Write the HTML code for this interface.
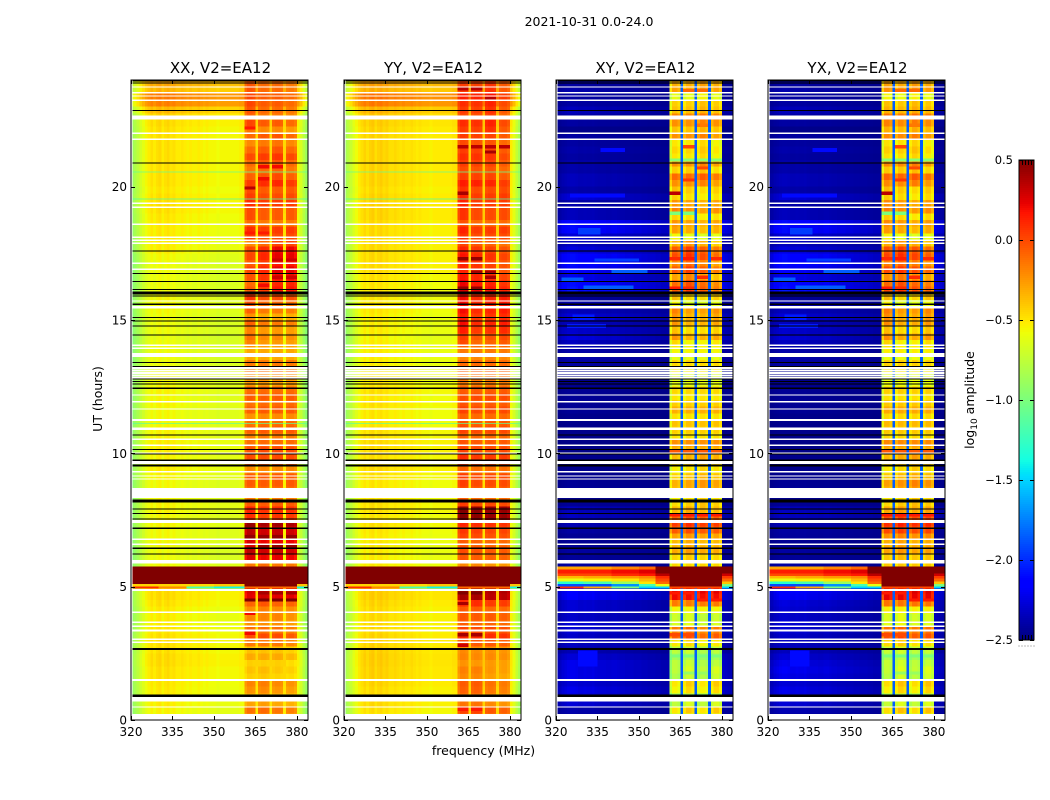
<!DOCTYPE html>
<html lang="en">
<head>
<meta charset="utf-8">
<title>2021-10-31 0.0-24.0 amplitude spectrograms</title>
<style>
html,body{margin:0;padding:0;background:#fff;width:1050px;height:800px;overflow:hidden}
svg{display:block}
text{font-family:"DejaVu Sans","Liberation Sans",sans-serif;fill:#000}
</style>
</head>
<body>
<svg id="chart" width="1050" height="800" viewBox="0 0 1050 800" xmlns="http://www.w3.org/2000/svg">
  <text x="589" y="26" font-size="12.5" text-anchor="middle">2021-10-31 0.0-24.0</text>
  <text x="483.5" y="755" font-size="12.5" text-anchor="middle">frequency (MHz)</text>
  <text transform="translate(102,399) rotate(-90)" font-size="12.5" text-anchor="middle">UT (hours)</text>
  <text transform="translate(974,400) rotate(-90)" font-size="12.5" text-anchor="middle">log<tspan font-size="9" dy="3">10</tspan><tspan dy="-3"> amplitude</tspan></text>
</svg>
<script>
/* ---------- axis data ---------- */
const freqTicks = [320, 335, 350, 365, 380];
const hourTicks = [0, 5, 10, 15, 20];
const colorTicks = [0.5, 0.0, -0.5, -1.0, -1.5, -2.0, -2.5];
const freqRange = [320, 384];
const hourRange = [0, 24];
const colorRange = [-2.5, 0.5];

/* channel kind per 1 MHz channel: 0 background, 1-4 sub-band, 5 gap between sub-bands */
const channelKind = [
  0,0,0,0,0,0,0,0,0,0,0,0,0,0,0,0,0,0,0,0,
  0,0,0,0,0,0,0,0,0,0,0,0,0,0,0,0,0,0,0,0,0,
  1,1,1,1,5,2,2,2,2,5,3,3,3,3,5,4,4,4,4,
  0,0,0,0];
const subbandLow = [361, 366, 371, 376];
const subbandHigh = [365, 370, 375, 380];

/* per-channel spectral shape (fraction of the row level above the floor) */
const parallelShape = [
  0.82,0.85,0.88,0.92,0.95,0.98,1.00,1.02,1.00,1.02,1.03,1.00,1.02,1.03,1.01,1.02,1.00,1.00,1.01,1.00,
  0.99,1.00,0.99,0.99,1.00,0.99,0.98,0.99,0.98,0.98,0.98,0.97,0.98,0.98,0.98,0.98,0.98,0.98,0.98,0.99,0.99,
  0.97,1.00,1.00,0.99,1.03,0.99,1.00,1.00,0.99,1.03,0.99,1.00,1.00,0.99,1.03,0.99,1.00,1.00,0.98,
  0.98,0.93,0.87,0.82];
const crossShape = [
  0.60,0.70,0.90,1.00,1.10,1.15,1.15,1.10,1.00,1.00,1.05,1.00,1.00,1.05,0.95,0.90,0.90,0.90,0.85,0.85,
  0.90,0.90,0.85,0.80,0.80,0.75,0.75,0.75,0.70,0.70,0.70,0.65,0.65,0.60,0.60,0.60,0.55,0.55,0.50,0.50,0.50,
  0.90,1.00,1.00,0.97,1.00,0.95,1.00,1.00,0.97,1.00,0.95,1.00,1.00,0.97,1.00,0.95,1.00,1.00,0.95,
  0.80,0.70,0.60,0.55];

/* background level per 0.25 h row (log10 amplitude), row 0 = 0.00-0.25 h */
const xxBackground = [
  -0.60,-0.58,-0.56,-0.55,-0.55,-0.54,-0.52,-0.52,-0.50,-0.50,-0.52,-0.52,-0.52,-0.54,-0.56,-0.56,
  -0.55,-0.52,-0.50,-0.50,-0.50,-0.50,-0.50,-0.60,-0.62,-0.62,-0.60,-0.60,-0.60,-0.58,-0.60,-0.58,
  -0.58,-0.60,-0.60,-0.60,-0.58,-0.56,-0.58,-0.58,-0.56,-0.56,-0.58,-0.58,-0.60,-0.60,-0.60,-0.58,
  -0.60,-0.58,-0.60,-0.60,-0.60,-0.62,-0.62,-0.62,-0.62,-0.64,-0.62,-0.62,-0.62,-0.60,-0.60,-0.60,
  -0.62,-0.62,-0.62,-0.62,-0.62,-0.60,-0.56,-0.56,-0.55,-0.55,-0.55,-0.54,-0.52,-0.52,-0.52,-0.54,
  -0.52,-0.52,-0.52,-0.52,-0.52,-0.52,-0.52,-0.52,-0.52,-0.50,-0.48,-0.40,-0.22,-0.20,-0.38,-0.34];
const yyBackground = [
  -0.55,-0.52,-0.50,-0.50,-0.50,-0.48,-0.47,-0.47,-0.46,-0.46,-0.47,-0.48,-0.48,-0.50,-0.50,-0.50,
  -0.50,-0.48,-0.46,-0.46,-0.46,-0.46,-0.46,-0.55,-0.56,-0.56,-0.55,-0.55,-0.54,-0.52,-0.54,-0.52,
  -0.52,-0.54,-0.54,-0.54,-0.52,-0.50,-0.52,-0.52,-0.50,-0.50,-0.52,-0.52,-0.54,-0.54,-0.54,-0.52,
  -0.54,-0.52,-0.54,-0.54,-0.54,-0.56,-0.56,-0.56,-0.56,-0.58,-0.56,-0.56,-0.56,-0.54,-0.54,-0.54,
  -0.54,-0.54,-0.52,-0.50,-0.50,-0.50,-0.50,-0.50,-0.50,-0.50,-0.50,-0.48,-0.48,-0.48,-0.48,-0.50,
  -0.48,-0.48,-0.48,-0.48,-0.48,-0.48,-0.48,-0.48,-0.48,-0.46,-0.44,-0.38,-0.20,-0.18,-0.36,-0.32];
const xyBackground = [
  -2.42,-2.40,-2.30,-2.30,-2.25,-2.30,-2.25,-2.25,-2.25,-2.30,-2.38,-2.35,-2.33,-2.30,-2.30,-2.33,
  -2.30,-2.30,-2.20,-2.20,-2.30,-2.30,-2.30,-2.42,-2.44,-2.42,-2.45,-2.45,-2.42,-2.38,-2.35,-2.35,
  -2.45,-2.47,-2.44,-2.45,-2.47,-2.47,-2.47,-2.47,-2.48,-2.48,-2.47,-2.47,-2.47,-2.47,-2.45,-2.45,
  -2.45,-2.45,-2.47,-2.47,-2.45,-2.42,-2.40,-2.40,-2.35,-2.28,-2.32,-2.36,-2.30,-2.36,-2.40,-2.45,
  -2.12,-2.15,-2.25,-2.20,-2.15,-2.15,-2.28,-2.36,-2.30,-2.15,-2.15,-2.36,-2.36,-2.40,-2.30,-2.40,
  -2.36,-2.36,-2.40,-2.40,-2.42,-2.40,-2.42,-2.42,-2.47,-2.42,-2.40,-2.36,-2.42,-2.42,-2.40,-2.42];
const yxBackground = [
  -2.42,-2.38,-2.30,-2.28,-2.25,-2.30,-2.25,-2.22,-2.25,-2.30,-2.36,-2.35,-2.33,-2.30,-2.30,-2.32,
  -2.30,-2.28,-2.20,-2.18,-2.30,-2.30,-2.30,-2.42,-2.44,-2.42,-2.45,-2.43,-2.42,-2.38,-2.35,-2.35,
  -2.45,-2.47,-2.44,-2.45,-2.47,-2.47,-2.47,-2.47,-2.48,-2.48,-2.47,-2.47,-2.47,-2.47,-2.45,-2.45,
  -2.45,-2.45,-2.47,-2.47,-2.45,-2.42,-2.40,-2.40,-2.35,-2.30,-2.32,-2.36,-2.30,-2.36,-2.40,-2.45,
  -2.12,-2.15,-2.25,-2.20,-2.15,-2.15,-2.28,-2.36,-2.30,-2.15,-2.15,-2.36,-2.36,-2.40,-2.30,-2.40,
  -2.36,-2.36,-2.40,-2.40,-2.42,-2.40,-2.42,-2.42,-2.47,-2.42,-2.40,-2.36,-2.42,-2.42,-2.40,-2.42];

/* mean sub-band level per 0.25 h row */
const xxBand = [
  -0.22,-0.12,-0.28,-0.32,-0.22,-0.18,-0.42,-0.38,-0.42,-0.30,-0.38,-0.15,0.00,-0.12,-0.22,-0.18,
  -0.22,-0.08,0.25,0.28,0.30,0.50,0.50,-0.15,0.22,0.30,0.22,0.32,0.30,0.40,0.05,0.08,
  -0.05,-0.15,-0.10,-0.05,-0.05,-0.20,-0.05,0.00,0.00,-0.10,-0.15,-0.05,-0.10,-0.20,-0.05,-0.10,
  -0.05,-0.10,-0.25,-0.20,-0.10,-0.15,-0.30,-0.30,-0.25,-0.20,-0.25,-0.15,-0.30,-0.15,-0.10,0.00,
  0.05,0.00,0.08,0.12,0.05,0.12,0.10,-0.10,0.00,0.05,-0.15,-0.05,-0.05,0.05,0.00,-0.05,
  0.10,-0.02,-0.10,-0.05,0.05,-0.05,-0.15,-0.05,-0.15,0.00,-0.10,-0.05,0.00,0.00,-0.05,-0.05];
const yyBand = [
  -0.10,-0.02,-0.18,-0.20,-0.12,-0.10,-0.25,-0.22,-0.25,-0.20,-0.22,-0.05,0.10,0.00,-0.08,-0.05,
  -0.10,0.05,0.35,0.38,0.40,0.50,0.50,-0.25,-0.08,-0.05,-0.10,-0.02,0.02,0.08,0.45,0.45,
  0.00,-0.10,-0.05,0.00,0.00,-0.12,0.00,0.05,0.00,-0.05,-0.10,0.00,-0.05,-0.10,0.00,-0.05,
  0.00,-0.05,-0.15,-0.12,-0.05,-0.10,-0.20,-0.15,-0.10,-0.05,0.05,0.10,0.05,0.10,0.10,0.10,
  0.20,0.15,0.10,0.05,0.05,0.10,0.05,-0.05,0.00,0.05,-0.10,0.00,0.00,0.05,0.05,0.00,
  0.10,0.00,-0.05,0.00,0.05,0.00,-0.05,0.00,0.00,0.05,-0.05,0.00,0.05,0.10,0.00,0.00];
const xyBand = [
  -0.65,-0.45,-0.70,-0.85,-0.50,-0.45,-0.75,-0.70,-0.75,-0.85,-0.75,-0.50,-0.05,-0.15,-0.65,-0.70,
  -0.60,-0.20,0.15,0.20,0.50,0.50,0.50,-0.50,-0.45,-0.30,-0.35,-0.28,-0.05,0.05,-0.05,-0.35,
  -0.42,-0.48,-0.30,-0.28,-0.38,-0.48,-0.42,-0.32,-0.32,-0.22,-0.48,-0.42,-0.38,-0.48,-0.32,-0.42,
  -0.50,-0.45,-0.60,-0.65,-0.50,-0.45,-0.60,-0.55,-0.50,-0.28,-0.42,-0.28,-0.28,-0.22,-0.60,-0.42,
  -0.05,-0.10,-0.28,-0.05,-0.18,0.00,-0.05,-0.32,-0.60,-0.32,-0.28,-0.48,-0.22,-0.28,-0.48,-0.42,
  -0.22,-0.10,-0.42,-0.22,-0.50,-0.45,-0.50,-0.22,-0.38,-0.22,-0.18,-0.38,-0.42,-0.60,-0.28,-0.32];
const yxBand = [
  -0.62,-0.42,-0.68,-0.82,-0.48,-0.42,-0.72,-0.68,-0.72,-0.82,-0.72,-0.45,-0.02,-0.12,-0.62,-0.65,
  -0.58,-0.18,0.18,0.22,0.50,0.50,0.50,-0.45,-0.40,-0.28,-0.32,-0.22,0.00,0.10,0.00,-0.30,
  -0.40,-0.45,-0.28,-0.22,-0.35,-0.45,-0.40,-0.30,-0.30,-0.20,-0.45,-0.40,-0.35,-0.45,-0.30,-0.40,
  -0.48,-0.42,-0.58,-0.62,-0.48,-0.42,-0.58,-0.52,-0.48,-0.25,-0.40,-0.25,-0.25,-0.20,-0.58,-0.40,
  0.00,-0.08,-0.22,0.00,-0.15,0.03,-0.02,-0.30,-0.58,-0.30,-0.25,-0.45,-0.20,-0.25,-0.45,-0.40,
  -0.20,-0.08,-0.40,-0.20,-0.48,-0.42,-0.48,-0.20,-0.35,-0.20,-0.15,-0.35,-0.40,-0.58,-0.25,-0.30];

/* sub-band offsets per 2 h block, columns = sub-bands 1-4 */
const xxOffsets = [
  [0,0.02,-0.02,-0.05],[0,0,0,-0.05],[0,0.05,0,0],[0.05,0,0.02,0],[0,0,0,0],[-0.02,0,0,0],
  [0,0,0,0],[0.08,0,0,-0.02],[-0.10,0,0.12,0.12],[0.05,0,0,0],[-0.05,0,0.02,-0.05],[0.02,-0.05,-0.05,-0.10]];
const yyOffsets = [
  [0.05,0.05,-0.02,-0.05],[0.02,0,0,-0.02],[0.05,0.05,0,0],[0.05,0.02,0,0],[0.05,0,0,0],[0.03,0,0,0],
  [0,0,0,0],[0.10,0,0.02,0.05],[0.08,0.02,-0.02,-0.08],[0.08,0,0,0],[0.05,0.03,0.02,-0.05],[0.05,0.03,0.08,-0.05]];
const xyOffsets = [
  [-0.05,0.05,-0.05,0.05],[0,0.05,-0.05,0],[0.05,0.05,0.05,0.05],[0,0.05,0,0],[-0.05,0,0.05,0],[0,0,0,0],
  [0,0,0,0],[0.05,-0.05,-0.05,0],[0,0.10,0,-0.10],[0.05,0,-0.05,0],[0,0,0.05,-0.05],[0,0,0.05,0]];
const yxOffsets = [
  [-0.05,0.05,-0.05,0.05],[0,0.05,-0.03,0],[0.05,0.05,0.05,0.05],[0,0.05,0,0.02],[-0.05,0,0.05,0],[0,0,0,0],
  [0,0,0,0],[0.05,-0.05,-0.05,0.02],[0,0.08,0,-0.08],[0.05,0,-0.05,0],[0,0,0.05,-0.05],[0.03,0,0.05,0]];

/* narrow streaks inside the sub-bands: hour, sub-band index, level */
const xxStreakHours = [22.2,20.75,20.75,19.95,20.3,18.26,18.26,17.25,17.25,16.6,16.6,16.3,7.25,6.87,6.87,6.87,6.87,6.5,6.5,6.5,4.5,4.5,4.5,4.5,4.76,4.76,4.76,4.0,3.25];
const xxStreakBands = [0,1,2,0,1,0,1,2,3,2,3,1,0,0,1,2,3,1,2,3,0,1,2,3,1,2,3,0,0];
const xxStreakLevels = [0.15,0.2,0.2,0.35,0.2,0.15,0.15,0.3,0.3,0.3,0.3,0.2,0.45,0.45,0.45,0.45,0.45,0.45,0.45,0.45,0.5,0.5,0.5,0.5,0.4,0.4,0.4,0.2,0.2];
const yyStreakHours = [23.66,23.66,23.3,21.5,21.5,21.5,21.5,21.3,19.75,17.3,17.3,16.8,16.8,16.6,16.2,16.2,4.76,4.76,4.37,3.2,3.2,2.8,0.4,0.4];
const yyStreakBands = [0,1,2,0,1,2,3,2,0,0,1,1,2,2,0,1,0,1,0,0,1,0,0,1];
const yyStreakLevels = [0.35,0.35,0.35,0.35,0.35,0.35,0.35,0.4,0.4,0.45,0.45,0.4,0.4,0.4,0.45,0.45,0.5,0.5,0.4,0.4,0.4,0.3,0.15,0.15];
const crossStreakHours = [19.75,17.3,17.3,17.3,16.2,16.2,16.6,20.7,20.25,21.5,22.3,23.6,23.6,21.0,21.0,21.0,21.0,19.0,19.0,7.7,7.7,7.7,7.7,4.76,4.76,4.5,4.5,3.2,3.2,10.1,10.1,10.1,10.1,2.4,2.4,2.4,2.4,1.76,1.76];
const crossStreakBands = [0,0,1,3,0,1,2,2,1,1,2,1,2,0,1,2,3,0,1,0,1,2,3,0,1,2,3,0,1,0,1,2,3,0,1,2,3,1,2];
const crossStreakLevels = [0.35,0.1,0.15,0.1,0.15,0.1,0.1,0.0,0.05,0.0,-0.15,-0.1,-0.1,-0.95,-0.95,-0.95,-0.95,-1.0,-1.0,0.15,0.15,0.15,0.15,0.15,0.15,0.15,0.15,0.0,0.0,-0.05,-0.05,-0.05,-0.05,-1.0,-1.0,-1.0,-1.0,-0.9,-0.9];

/* faint blue patches of the cross-hand background */
const patchHourLow = [18.2,16.75,16.45,16.15,21.3,14.7,15.0,17.2,19.6,2.0];
const patchHourHigh = [18.45,16.9,16.6,16.3,21.45,14.85,15.2,17.3,19.75,2.6];
const patchFreqLow = [328,340,322,330,336,324,326,334,325,328];
const patchFreqHigh = [336,353,330,348,345,338,334,350,345,335];
const patchLevels = [-1.95,-1.85,-1.85,-1.85,-2.1,-2.05,-2.05,-1.95,-2.1,-2.1];

/* strong event near 5 h: frequency segment edges, hour rows, level per segment */
const eventFreqs = [320, 330, 340, 350, 356, 361, 380, 384];
const eventHours = [5.75, 5.65, 5.50, 5.40, 5.30, 5.20, 5.10, 5.00, 4.94];
const parallelEvent = [
  [0.5,0.5,0.5,0.5,0.5,0.5,0.5],
  [0.5,0.5,0.5,0.5,0.5,0.5,0.5],
  [0.5,0.5,0.5,0.5,0.5,0.5,0.5],
  [0.5,0.5,0.5,0.5,0.5,0.5,0.5],
  [0.5,0.5,0.5,0.5,0.5,0.5,0.5],
  [0.5,0.5,0.5,0.5,0.5,0.5,0.5],
  [-0.45,-0.45,-0.45,-0.40,-0.40,0.5,-0.40],
  [0.10,-0.20,-1.20,-1.40,-1.40,-0.10,-1.40]];
const crossEvent = [
  [-0.30,-0.30,-0.20,-0.10,0.50,0.50,0.50],
  [0.15,0.15,0.20,0.25,0.50,0.50,0.50],
  [0.00,0.00,0.10,0.15,0.35,0.50,0.30],
  [-0.35,-0.30,-0.25,-0.20,0.10,0.50,0.05],
  [-0.60,-0.55,-0.50,-0.35,0.00,0.50,-0.10],
  [-1.30,-1.20,-0.90,-0.50,-0.10,0.50,-0.40],
  [-1.90,-1.90,-1.70,-1.20,-0.60,0.50,-1.00],
  [0.10,-0.30,-1.00,-1.50,-1.50,0.00,-1.50]];

/* flagged time samples (hours): blank rows, black rows, thin dropout rows */
const blankHours = [23.74,23.52,23.40,23.24,22.59,22.00,21.78,19.38,19.23,18.59,18.10,17.99,17.88,17.13,16.90,15.71,15.48,14.05,13.94,13.69,13.20,13.11,13.01,12.92,12.83,12.19,11.94,11.66,11.25,10.95,10.90,10.53,10.30,10.00,9.66,9.31,9.15,9.04,8.51,7.45,6.78,6.59,5.94,4.87,4.04,3.66,3.52,3.35,3.03,2.91,1.50,0.79,0.49,0.11];
const blankWidths = [0.05,0.05,0.05,0.05,0.16,0.05,0.05,0.05,0.05,0.05,0.05,0.05,0.05,0.05,0.05,0.05,0.08,0.05,0.05,0.16,0.07,0.07,0.07,0.07,0.07,0.05,0.05,0.05,0.09,0.05,0.05,0.05,0.05,0.05,0.13,0.05,0.05,0.05,0.38,0.11,0.05,0.05,0.13,0.08,0.05,0.05,0.05,0.08,0.05,0.05,0.08,0.20,0.05,0.22];
const blackHours = [23.96,23.89,22.86,20.88,17.58,16.75,16.45,16.15,16.01,15.90,15.59,15.10,14.97,14.78,14.43,13.41,13.26,12.79,12.70,12.60,12.44,10.68,10.15,9.98,9.74,9.54,8.21,7.91,7.75,7.53,7.19,6.44,6.22,2.66,0.91];
const blackWidths = [0.04,0.04,0.04,0.04,0.04,0.04,0.04,0.04,0.12,0.04,0.04,0.04,0.04,0.04,0.04,0.04,0.04,0.04,0.04,0.04,0.04,0.04,0.04,0.04,0.04,0.08,0.12,0.04,0.04,0.04,0.04,0.04,0.04,0.08,0.09];
const dropoutHours = [20.56, 19.56, 11.13];
const dropoutLevels = [-1.1, -1.2, -1.1];

const panels = [
  {id:'xx', title:'XX, V2=EA12', left:131, bg:xxBackground, band:xxBand, off:xxOffsets, shape:parallelShape, event:parallelEvent, gap:null, dropouts:true, patches:false, sh:xxStreakHours, sb:xxStreakBands, sl:xxStreakLevels},
  {id:'yy', title:'YY, V2=EA12', left:344, bg:yyBackground, band:yyBand, off:yyOffsets, shape:parallelShape, event:parallelEvent, gap:null, dropouts:true, patches:false, sh:yyStreakHours, sb:yyStreakBands, sl:yyStreakLevels},
  {id:'xy', title:'XY, V2=EA12', left:556, bg:xyBackground, band:xyBand, off:xyOffsets, shape:crossShape, event:crossEvent, gap:-1.85, dropouts:false, patches:true, sh:crossStreakHours, sb:crossStreakBands, sl:crossStreakLevels},
  {id:'yx', title:'YX, V2=EA12', left:768, bg:yxBackground, band:yxBand, off:yxOffsets, shape:crossShape, event:crossEvent, gap:-1.85, dropouts:false, patches:true, sh:crossStreakHours, sb:crossStreakBands, sl:crossStreakLevels}
];

/* ---------- geometry and scales ---------- */
const NS = 'http://www.w3.org/2000/svg';
const svg = document.getElementById('chart');
const plotTop = 80, plotBottom = 720, plotWidth = 177;
const cbLeft = 1019, cbWidth = 15, cbTop = 160, cbBottom = 640;

function xScale(left, f) { return left + (f - freqRange[0]) * plotWidth / (freqRange[1] - freqRange[0]); }
function yScale(h) { return plotBottom - (h - hourRange[0]) * (plotBottom - plotTop) / (hourRange[1] - hourRange[0]); }
function cbScale(v) { return cbBottom - (v - colorRange[0]) * (cbBottom - cbTop) / (colorRange[1] - colorRange[0]); }

function piece(x, x0, y0, x1, y1) {
  if (x <= x0) return y0;
  if (x >= x1) return y1;
  return y0 + (y1 - y0) * (x - x0) / (x1 - x0);
}
function jet(v) {
  const t = Math.max(0, Math.min(1, (v - colorRange[0]) / (colorRange[1] - colorRange[0])));
  let r, g, b;
  r = t < 0.66 ? piece(t, 0.35, 0, 0.66, 1) : (t < 0.89 ? 1 : piece(t, 0.89, 1, 1, 0.5));
  g = t < 0.375 ? piece(t, 0.125, 0, 0.375, 1) : (t < 0.64 ? 1 : piece(t, 0.64, 1, 0.91, 0));
  b = t < 0.34 ? piece(t, 0, 0.5, 0.11, 1) : piece(t, 0.34, 1, 0.65, 0);
  return 'rgb(' + Math.round(r * 255) + ',' + Math.round(g * 255) + ',' + Math.round(b * 255) + ')';
}
function make(tag, attrs, parent) {
  const el = document.createElementNS(NS, tag);
  for (const k in attrs) el.setAttribute(k, attrs[k]);
  (parent || svg).appendChild(el);
  return el;
}
function cellValue(p, r, c) {
  const kind = channelKind[c], floor = colorRange[0];
  if (kind === 5 && p.gap !== null) return p.gap;
  if (kind >= 1 && kind <= 4) {
    const block = Math.floor(r / 8);
    return floor + (p.band[r] + p.off[block][kind - 1] - floor) * p.shape[c];
  }
  return floor + (p.bg[r] - floor) * p.shape[c];
}

/* ---------- panels ---------- */
panels.forEach(function (p) {
  const g = make('g', {'shape-rendering': 'crispEdges'});
  
  

  for (let r = 0; r < p.bg.length; r++) {
    const rowHourLow = r * 0.25, rowHourHigh = (r + 1) * 0.25;
    for (let c = 0; c < channelKind.length; c++) {
      const x0 = xScale(p.left, freqRange[0] + c), x1 = xScale(p.left, freqRange[0] + c + 1);
      const y0 = yScale(rowHourHigh), y1 = yScale(rowHourLow);
      const cell = make('rect', {x: x0, y: y0, width: x1 - x0, height: y1 - y0, fill: jet(cellValue(p, r, c))}, g);
      
      
    }
  }

  /* background patches */
  if (p.patches) {
    patchLevels.forEach(function (val, i) {
      const x0 = xScale(p.left, patchFreqLow[i]), x1 = xScale(p.left, patchFreqHigh[i]);
      const y0 = yScale(patchHourHigh[i]), y1 = yScale(patchHourLow[i]);
      const patch = make('rect', {x: x0, y: y0, width: x1 - x0, height: y1 - y0, fill: jet(val)}, g);
      
      
    });
  }

  /* sub-band streaks */
  p.sl.forEach(function (val, i) {
    const x0 = xScale(p.left, subbandLow[p.sb[i]]), x1 = xScale(p.left, subbandHigh[p.sb[i]]);
    const streak = make('rect', {x: x0, y: yScale(p.sh[i] + 0.06), width: x1 - x0, height: yScale(p.sh[i] - 0.06) - yScale(p.sh[i] + 0.06), fill: jet(val)}, g);
    
    
  });

  /* strong event rows */
  p.event.forEach(function (row, ri) {
    row.forEach(function (val, ci) {
      const x0 = xScale(p.left, eventFreqs[ci]), x1 = xScale(p.left, eventFreqs[ci + 1]);
      const y0 = yScale(eventHours[ri]), y1 = yScale(eventHours[ri + 1]);
      const cell = make('rect', {x: x0, y: y0, width: x1 - x0, height: y1 - y0, fill: jet(val)}, g);
      
      
    });
  });

  /* thin dropouts */
  if (p.dropouts) {
    dropoutHours.forEach(function (h, i) {
      const line = make('rect', {x: p.left, y: yScale(h), width: plotWidth, height: 1, fill: jet(dropoutLevels[i]), opacity: 0.7}, g);
      
      
    });
  }

  /* flagged rows */
  blankHours.forEach(function (h, i) {
    const w = blankWidths[i];
    const band = make('rect', {x: p.left, y: yScale(h + w / 2), width: plotWidth, height: Math.max(1, w * (plotBottom - plotTop) / 24), fill: '#fff'}, g);
    
    
  });
  blackHours.forEach(function (h, i) {
    const w = blackWidths[i];
    const band = make('rect', {x: p.left, y: yScale(h + w / 2), width: plotWidth, height: Math.max(1, w * (plotBottom - plotTop) / 24), fill: '#000'}, g);
    
    
  });
  const leftBlank = make('rect', {x: p.left, y: plotTop, width: 1.5, height: plotBottom - plotTop, fill: '#fff'}, g);
  
  

  /* ticks */
  freqTicks.forEach(function (f) {
    const x = Math.round(xScale(p.left, f)) + 0.5;
    const b = make('line', {x1: x, x2: x, y1: plotBottom, y2: plotBottom - 4, stroke: '#000', 'stroke-width': 1});
    
    
    const t = make('line', {x1: x, x2: x, y1: plotTop, y2: plotTop + 4, stroke: '#000', 'stroke-width': 1});
    
    
    const label = make('text', {x: xScale(p.left, f), y: 736, 'font-size': 12, 'text-anchor': 'middle'});
    
    
    label.textContent = String(f);
  });
  hourTicks.forEach(function (h) {
    const y = Math.round(yScale(h)) + 0.5;
    const l = make('line', {x1: p.left, x2: p.left + 4, y1: y, y2: y, stroke: '#000', 'stroke-width': 1});
    
    
    const r = make('line', {x1: p.left + plotWidth - 4, x2: p.left + plotWidth, y1: y, y2: y, stroke: '#000', 'stroke-width': 1});
    
    
    const label = make('text', {x: p.left - 4, y: yScale(h) + 4.5, 'font-size': 12, 'text-anchor': 'end'});
    
    
    label.textContent = String(h);
  });

  const frame = make('rect', {x: p.left, y: plotTop, width: plotWidth, height: plotBottom - plotTop, fill: 'none', stroke: '#000', 'stroke-width': 1});
  
  

  const title = make('text', {x: p.left + plotWidth / 2 + 1, y: 73, 'font-size': 15, 'text-anchor': 'middle'});
  
  
  title.textContent = p.title;
});

/* ---------- colorbar ---------- */
const cbGroup = make('g', {'shape-rendering': 'crispEdges'});


for (let y = cbTop; y < cbBottom; y += 2) {
  const v = colorRange[1] - (y + 1 - cbTop) * (colorRange[1] - colorRange[0]) / (cbBottom - cbTop);
  const seg = make('rect', {x: cbLeft, y: y, width: cbWidth, height: 2, fill: jet(v)}, cbGroup);
  
  
}
colorTicks.forEach(function (v) {
  const y = Math.round(cbScale(v)) + 0.5;
  const l = make('line', {x1: cbLeft, x2: cbLeft + 4, y1: y, y2: y, stroke: '#000', 'stroke-width': 1});
  
  
  const r = make('line', {x1: cbLeft + cbWidth - 4, x2: cbLeft + cbWidth, y1: y, y2: y, stroke: '#000', 'stroke-width': 1});
  
  
  const label = make('text', {x: 1013, y: cbScale(v) + 4, 'font-size': 11.5, 'text-anchor': 'end'});
  
  
  label.textContent = v.toFixed(1).replace('-', '\u2212');
});
/* minor ticks and dotted labels along the colorbar's short axis */
const cbMinor = [0.2, 0.4, 0.6, 0.8];
cbMinor.forEach(function (fr) {
  const x = Math.round(cbLeft + fr * cbWidth) + 0.5;
  const top = make('line', {x1: x, x2: x, y1: cbTop, y2: cbTop + 5, stroke: '#000', 'stroke-width': 1});
  
  
  const bottom = make('line', {x1: x, x2: x, y1: cbBottom, y2: cbBottom - 5, stroke: '#000', 'stroke-width': 1});
  
  
});
const cbDots = [0, 0.2, 0.4, 0.6, 0.8, 1];
cbDots.forEach(function (fr) {
  const d = make('rect', {x: Math.round(cbLeft + fr * cbWidth) - 0.5, y: 645.5, width: 1, height: 1, fill: '#777'});
  
  
});
const cbFrame = make('rect', {x: cbLeft, y: cbTop, width: cbWidth, height: cbBottom - cbTop, fill: 'none', stroke: '#000', 'stroke-width': 1});


</script>
</body>
</html>
